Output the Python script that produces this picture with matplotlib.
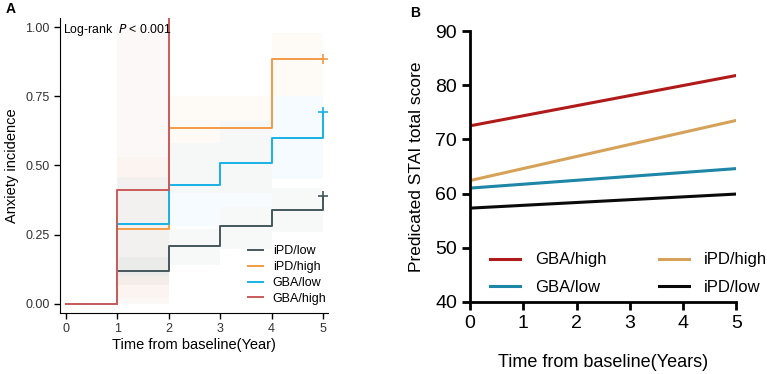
import numpy as np
import matplotlib
matplotlib.use("Agg")
import matplotlib.pyplot as plt

plt.rcParams['font.family'] = ['Liberation Sans', 'DejaVu Sans']

# ---- Panel A: cumulative anxiety incidence (step curves) ----
km_time = [0, 1, 2, 3, 4, 5]
km_groups = ['iPD/low', 'iPD/high', 'GBA/low', 'GBA/high']
km_colors = ['#46575c', '#f39a45', '#19b2e6', '#cc5a5a']
km_vals = {
    'iPD/low':  [0.0, 0.12, 0.21, 0.28, 0.34, 0.39],
    'iPD/high': [0.0, 0.27, 0.635, 0.635, 0.885, 0.885],
    'GBA/low':  [0.0, 0.29, 0.43, 0.51, 0.60, 0.695],
    'GBA/high': [0.0, 0.41, 1.05],
}
# rough confidence bands (lower, upper) per interval
km_lo = {
    'iPD/low':  [0.0, 0.07, 0.14, 0.20, 0.26, 0.26],
    'iPD/high': [0.0, 0.02, 0.40, 0.40, 0.75, 0.75],
    'GBA/low':  [0.0, 0.10, 0.28, 0.35, 0.45, 0.45],
    'GBA/high': [0.0, 0.0, 1.0],
}
km_hi = {
    'iPD/low':  [0.0, 0.17, 0.27, 0.35, 0.42, 0.42],
    'iPD/high': [0.0, 0.53, 0.75, 0.75, 0.98, 0.98],
    'GBA/low':  [0.0, 0.46, 0.58, 0.66, 0.75, 0.75],
    'GBA/high': [0.0, 1.0, 1.0],
}
km_censor = {'iPD/low': 0.39, 'iPD/high': 0.885, 'GBA/low': 0.695}

# ---- Panel B: predicted STAI total score ----
lin_years = [0, 5]
lin_groups = ['GBA/high', 'GBA/low', 'iPD/high', 'iPD/low']
lin_colors = ['#b01a1a', '#1e86a6', '#d6a25a', '#0a0a0a']
lin_vals = {
    'GBA/high': [72.5, 81.8],
    'GBA/low':  [61.0, 64.6],
    'iPD/high': [62.4, 73.5],
    'iPD/low':  [57.3, 59.9],
}

fig = plt.figure(figsize=(7.67, 3.74), dpi=100)

axA = fig.add_axes([0.078, 0.163, 0.35, 0.789])
for g, c in zip(km_groups, km_colors):
    v = km_vals[g]
    t = km_time[:len(v)]
    lo, hi = km_lo[g], km_hi[g]
    for i in range(1, len(v) - 1):
        axA.fill_between([t[i], t[i + 1]], lo[i], hi[i], color=c, alpha=0.04, lw=0)
    axA.step(t, v, where='post', color=c, lw=1.4, label=g)
    if g in km_censor:
        axA.plot(5, km_censor[g], marker='+', ms=7, mew=1.2, color=c)

axA.set_xlim(-0.117, 5.1)
axA.set_ylim(-0.033, 1.033)
axA.set_xticks(range(6))
axA.set_yticks([0, 0.25, 0.5, 0.75, 1.0])
axA.set_yticklabels(['0.00', '0.25', '0.50', '0.75', '1.00'])
axA.spines['top'].set_visible(False)
axA.spines['right'].set_visible(False)
axA.tick_params(labelsize=9, length=4, width=1, colors='black', labelcolor='#333333')
axA.set_xlabel('Time from baseline(Year)', fontsize=10.5, labelpad=2)
axA.set_ylabel('Anxiety incidence', fontsize=10.5, labelpad=4)
axA.text(0.01, 0.985, 'Log-rank  $\\it{P}$ < 0.001', transform=axA.transAxes,
         fontsize=8.8, va='top', ha='left')
axA.legend(loc='lower right', frameon=False, fontsize=9, handlelength=1.2,
           labelspacing=0.3, bbox_to_anchor=(1.035, -0.01))
fig.text(0.008, 0.965, 'A', fontsize=10, fontweight='bold')

axB = fig.add_axes([0.613, 0.193, 0.347, 0.724])
for g, c in zip(lin_groups, lin_colors):
    axB.plot(lin_years, lin_vals[g], color=c, lw=2.2, label=g)
axB.set_xlim(0, 5)
axB.set_ylim(40, 90)
axB.set_xticks(range(6))
axB.set_yticks(range(40, 91, 10))
axB.spines['top'].set_visible(False)
axB.spines['right'].set_visible(False)
axB.spines['left'].set_linewidth(2)
axB.spines['bottom'].set_linewidth(2)
axB.tick_params(labelsize=14, length=6, width=2)
axB.set_xlabel('Time from baseline(Years)', fontsize=13, labelpad=16)
axB.set_ylabel('Predicated STAI total score', fontsize=12.5, labelpad=8)
axB.legend(loc='lower left', ncol=2, frameon=False, fontsize=12,
           handlelength=1.8, handletextpad=0.9, columnspacing=3.1,
           labelspacing=0.75, bbox_to_anchor=(0.02, -0.03))
fig.text(0.535, 0.955, 'B', fontsize=10, fontweight='bold')

fig.savefig('out.png', dpi=100)
